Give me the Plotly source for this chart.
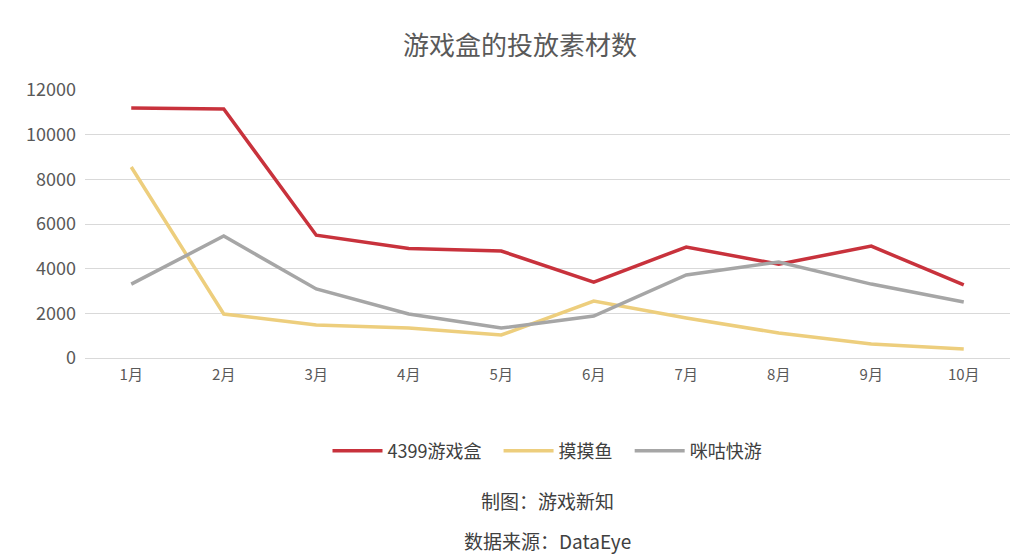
import plotly.graph_objects as go

months = ["1月","2月","3月","4月","5月","6月","7月","8月","9月","10月"]
s4399 = [11190, 11150, 5500, 4900, 4790, 3400, 4970, 4200, 5010, 3270]
momoyu = [8550, 1970, 1480, 1340, 1030, 2550, 1790, 1120, 630, 400]
migu = [3310, 5460, 3090, 1970, 1340, 1880, 3720, 4300, 3310, 2510]

F = "Noto Sans CJK SC"
fig = go.Figure()
fig.add_trace(go.Scatter(x=months, y=s4399, name="4399游戏盒   ", mode="lines", line=dict(color="#C8323C", width=3.5)))
fig.add_trace(go.Scatter(x=months, y=momoyu, name="摸摸鱼   ", mode="lines", line=dict(color="#EDCE7D", width=3.5)))
fig.add_trace(go.Scatter(x=months, y=migu, name="咪咕快游", mode="lines", line=dict(color="#A6A6A6", width=3.5)))
fig.update_layout(
    width=1024, height=560, plot_bgcolor="white", paper_bgcolor="white",
    margin=dict(l=77, r=22, t=82, b=210),
    font=dict(family=F, color="#595959"),
    title=dict(text="游戏盒的投放素材数", x=0.5, xanchor="center", y=0.932, yanchor="middle", font=dict(size=26, color="#595959")),
    legend=dict(orientation="h", x=0.5, xanchor="center", y=-0.347, yanchor="middle", font=dict(size=18, color="#404040"),
                itemwidth=50),
    annotations=[
        dict(text="制图：游戏新知", x=0.5, y=-0.53, xref="paper", yref="paper", yanchor="middle", showarrow=False, font=dict(size=19, color="#404040")),
        dict(text="数据来源：DataEye", x=0.5, y=-0.68, xref="paper", yref="paper", yanchor="middle", showarrow=False, font=dict(size=19, color="#404040")),
    ],
)
fig.update_xaxes(range=[-0.5, 9.5], showgrid=False, showline=True, linecolor="#D9D9D9", tickfont=dict(size=15), ticks="outside", tickcolor="white", ticklen=3)
fig.update_yaxes(range=[0, 12000], dtick=2000, tickformat="d", gridcolor="#D9D9D9", tickfont=dict(size=18), zeroline=False, ticksuffix="  ")
fig.write_html("out.html")
